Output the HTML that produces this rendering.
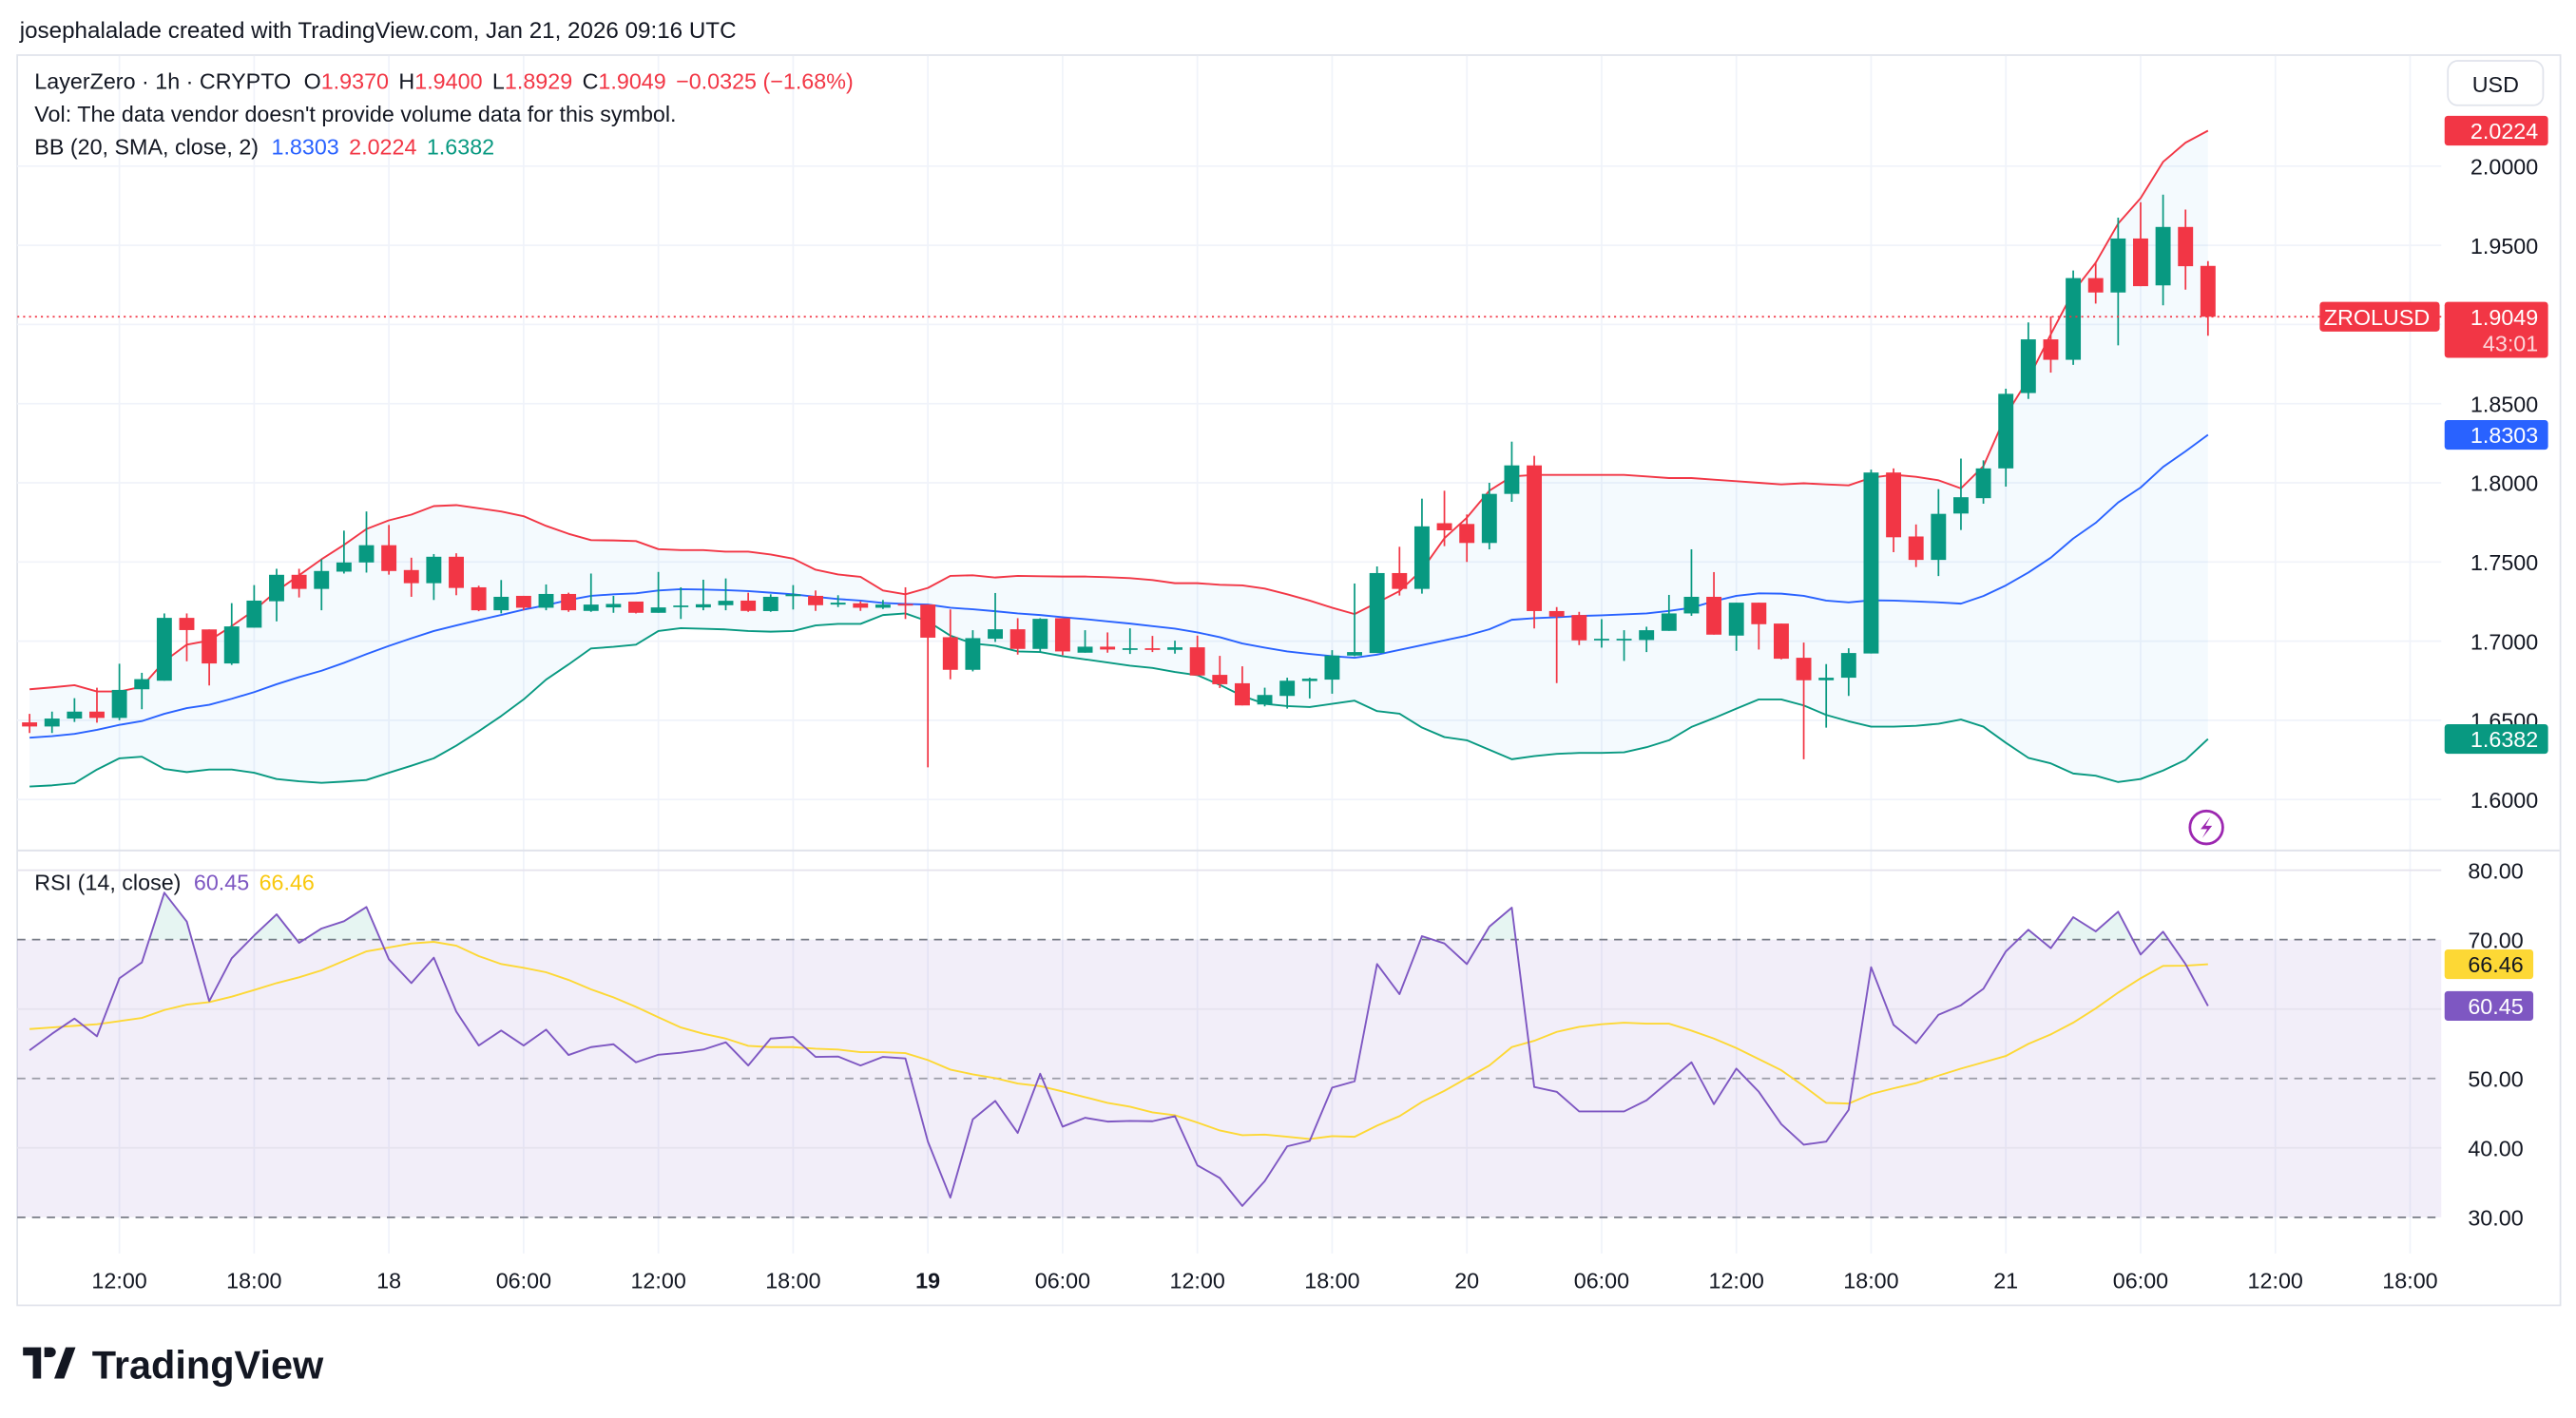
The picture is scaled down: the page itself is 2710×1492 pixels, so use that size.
<!DOCTYPE html>
<html><head><meta charset="utf-8"><style>
html,body{margin:0;padding:0;background:#fff;}
svg{display:block;}
text{font-family:"Liberation Sans",sans-serif;}
</style></head><body>
<svg id="chart" width="2710" height="1492" viewBox="0 0 1568 862" preserveAspectRatio="none" xmlns="http://www.w3.org/2000/svg">
<rect x="0" y="0" width="1568" height="862" fill="#ffffff"/>
<text x="12" y="23" font-size="14" fill="#131722">josephalalade created with TradingView.com, Jan 21, 2026 09:16 UTC</text>
<rect x="10.5" y="33.5" width="1548" height="760" fill="none" stroke="#e0e3eb" stroke-width="1"/>
<g id="grid"></g>
<g id="main"></g>
<g id="rsi"></g>
<g id="axes"></g>
<g font-size="13.5">
<text x="21" y="54" fill="#131722">LayerZero · 1h · CRYPTO <tspan dx="4">O</tspan><tspan fill="#f23645">1.9370</tspan><tspan dx="6">H</tspan><tspan fill="#f23645">1.9400</tspan><tspan dx="6">L</tspan><tspan fill="#f23645">1.8929</tspan><tspan dx="6">C</tspan><tspan fill="#f23645">1.9049</tspan><tspan dx="6" fill="#f23645">−0.0325 (−1.68%)</tspan></text>
<text x="21" y="74" fill="#131722">Vol: The data vendor doesn't provide volume data for this symbol.</text>
<text x="21" y="94" fill="#131722">BB (20, SMA, close, 2) <tspan dx="4" fill="#2962ff">1.8303</tspan><tspan dx="6" fill="#f23645">2.0224</tspan><tspan dx="6" fill="#089981">1.6382</tspan></text>
<text x="21" y="541" fill="#131722">RSI (14, close) <tspan dx="4" fill="#7e57c2">60.45</tspan><tspan dx="6" fill="#f9c80e">66.46</tspan></text>
</g>
<g>
<rect x="1490" y="37" width="58" height="27" rx="6" fill="#fff" stroke="#e0e3eb"/>
<text x="1519" y="56" text-anchor="middle" font-size="13.5" fill="#131722">USD</text>
</g>
<g>
<circle cx="1343" cy="503" r="10" fill="none" stroke="#9c27b0" stroke-width="1.6"/>
<path d="M1345.5 496.5 L1339.5 504 L1343.5 504 L1340.5 509.5 L1346.5 502 L1342.5 502 Z" fill="#9c27b0"/>
</g>
<g>
<path d="M14 819 h11 v19 h-5 v-14 h-6 z M27 819 h4 a3 3 0 0 1 0 6 h-4 z M33 838 l7 -19 h6 l-7 19 z" fill="#131722"/>
<text x="56" y="838" font-size="24" font-weight="bold" fill="#131722">TradingView</text>
</g>
</svg>
<script>
const opens=[1.6487,1.6461,1.6511,1.6555,1.6515,1.6696,1.675,1.7147,1.7074,1.6859,1.7085,1.7252,1.7419,1.733,1.7439,1.7497,1.7606,1.7449,1.7366,1.7533,1.734,1.7195,1.7286,1.7211,1.7298,1.7191,1.7213,1.725,1.7179,1.7217,1.7213,1.7227,1.7256,1.719,1.7284,1.7286,1.7231,1.7239,1.7211,1.7235,1.7231,1.7025,1.6819,1.7015,1.7075,1.6951,1.7145,1.6927,1.6965,1.6945,1.6955,1.6945,1.6961,1.6787,1.6734,1.66,1.6654,1.6748,1.6757,1.6909,1.6925,1.743,1.733,1.7745,1.774,1.762,1.793,1.811,1.719,1.7165,1.7007,1.7007,1.7007,1.7065,1.7175,1.728,1.7035,1.7243,1.7111,1.6895,1.6753,1.6769,1.6922,1.8065,1.7661,1.7513,1.7806,1.7903,1.8091,1.8567,1.8906,1.8777,1.9293,1.9202,1.9543,1.9247,1.9616,1.937];
const highs=[1.6541,1.6555,1.664,1.6706,1.6857,1.680,1.7175,1.7175,1.7074,1.724,1.7354,1.7457,1.7457,1.7517,1.7698,1.7819,1.7734,1.7527,1.755,1.7555,1.735,1.7386,1.7286,1.7358,1.7306,1.7427,1.7286,1.725,1.7437,1.734,1.7388,1.7396,1.7306,1.7296,1.7354,1.732,1.729,1.7251,1.726,1.734,1.7231,1.72,1.7069,1.7304,1.7145,1.7145,1.7145,1.7069,1.7055,1.7081,1.7033,1.7003,1.7035,1.6907,1.6841,1.6706,1.6769,1.6769,1.6943,1.7364,1.7472,1.7596,1.790,1.795,1.780,1.800,1.826,1.817,1.7215,1.7185,1.7139,1.7069,1.7091,1.7292,1.758,1.7436,1.7243,1.7243,1.7111,1.6991,1.6855,1.6955,1.8083,1.8091,1.7737,1.796,1.8153,1.8142,1.8594,1.9013,1.9051,1.9341,1.9395,1.9675,1.9772,1.982,1.9726,1.940];
const lows=[1.642,1.642,1.649,1.6485,1.650,1.657,1.675,1.6873,1.672,1.685,1.7085,1.7125,1.7276,1.7195,1.7427,1.7433,1.742,1.728,1.726,1.729,1.7189,1.7175,1.7195,1.7195,1.7185,1.7185,1.7179,1.7175,1.7179,1.714,1.7195,1.7195,1.7185,1.7185,1.72,1.7191,1.7215,1.7191,1.7203,1.714,1.6203,1.6759,1.6809,1.6995,1.6915,1.6931,1.6911,1.6927,1.6927,1.6919,1.6931,1.6921,1.6783,1.6704,1.6594,1.6588,1.6574,1.6638,1.6668,1.6905,1.6925,1.7288,1.730,1.760,1.750,1.758,1.788,1.708,1.6735,1.6975,1.6959,1.6875,1.6931,1.7065,1.716,1.7041,1.6939,1.6947,1.6885,1.6254,1.6454,1.6654,1.6922,1.7562,1.7468,1.7411,1.7702,1.7868,1.7976,1.853,1.8696,1.8745,1.9132,1.8868,1.9242,1.9121,1.922,1.8929];
const closes=[1.6461,1.6511,1.6555,1.6515,1.6692,1.676,1.7147,1.707,1.6859,1.7093,1.7256,1.7419,1.733,1.7443,1.7497,1.7606,1.7443,1.7366,1.7533,1.7336,1.7195,1.728,1.7211,1.7298,1.7195,1.7231,1.7235,1.7179,1.7213,1.7225,1.7233,1.7255,1.7191,1.728,1.7296,1.7227,1.7243,1.7211,1.7231,1.7227,1.7022,1.6819,1.7019,1.7075,1.6951,1.7141,1.6935,1.6965,1.6947,1.6955,1.6945,1.6961,1.6783,1.6728,1.6594,1.666,1.675,1.6763,1.6909,1.6931,1.743,1.733,1.7725,1.770,1.762,1.793,1.811,1.719,1.7155,1.7005,1.7015,1.7015,1.7069,1.7175,1.728,1.7041,1.7243,1.7107,1.6889,1.6753,1.6769,1.6925,1.8065,1.7656,1.7513,1.7804,1.7909,1.8091,1.8562,1.8906,1.8777,1.9293,1.9202,1.9543,1.9242,1.9616,1.9368,1.9049];
const bbUpper=[1.6696,1.6708,1.6722,1.6682,1.6682,1.6712,1.6873,1.6978,1.7004,1.7095,1.7195,1.7316,1.7416,1.7517,1.7608,1.7708,1.7763,1.7799,1.7853,1.7859,1.7839,1.7819,1.7789,1.7728,1.7678,1.7638,1.7636,1.7632,1.7581,1.7575,1.7575,1.7565,1.7565,1.7547,1.7521,1.7451,1.7421,1.7406,1.732,1.7296,1.7336,1.7412,1.7416,1.7402,1.7412,1.741,1.7408,1.7408,1.7404,1.7398,1.7386,1.7366,1.7366,1.7356,1.7352,1.7332,1.7296,1.7256,1.7211,1.7171,1.7243,1.7316,1.745,1.765,1.778,1.795,1.804,1.805,1.805,1.805,1.805,1.805,1.804,1.803,1.803,1.802,1.801,1.800,1.799,1.7997,1.799,1.7984,1.8032,1.8051,1.8038,1.8016,1.7965,1.8105,1.8427,1.8656,1.8938,1.9207,1.939,1.9637,1.9798,2.0027,2.0148,2.0224];
const bbMid=[1.639,1.640,1.6414,1.644,1.6471,1.6495,1.6541,1.6577,1.6598,1.6636,1.6678,1.6728,1.6773,1.6813,1.6863,1.6918,1.697,1.7018,1.7064,1.7099,1.7133,1.7165,1.7199,1.7227,1.726,1.7286,1.7296,1.7302,1.732,1.7328,1.7326,1.7322,1.7316,1.7306,1.7296,1.728,1.7266,1.7256,1.7241,1.7235,1.7231,1.7211,1.7201,1.7189,1.7175,1.7165,1.7151,1.7139,1.7125,1.7111,1.7095,1.7079,1.7055,1.7025,1.6985,1.6959,1.6935,1.6919,1.6905,1.6895,1.6915,1.6945,1.6975,1.7005,1.7035,1.7075,1.7135,1.7145,1.7151,1.7159,1.7163,1.7169,1.7175,1.7191,1.7211,1.7252,1.7286,1.7302,1.73,1.7286,1.7256,1.7245,1.7258,1.7256,1.7251,1.7245,1.7237,1.7285,1.7352,1.7433,1.7527,1.7648,1.7747,1.7876,1.797,1.81,1.8199,1.8303];
const bbLower=[1.6082,1.6089,1.6103,1.6189,1.626,1.627,1.6193,1.6173,1.6189,1.6189,1.6169,1.6129,1.6115,1.6105,1.6113,1.6123,1.6169,1.6213,1.626,1.634,1.6431,1.6527,1.6632,1.6757,1.6853,1.6954,1.6964,1.6978,1.7064,1.7082,1.7078,1.7074,1.7064,1.706,1.7064,1.7099,1.7109,1.7109,1.7165,1.7175,1.7125,1.7035,1.6985,1.6971,1.6935,1.6931,1.6905,1.6885,1.6865,1.6845,1.6831,1.6805,1.6785,1.6724,1.6654,1.6604,1.659,1.6584,1.6604,1.6624,1.6558,1.6542,1.6454,1.6394,1.6374,1.6314,1.6254,1.6274,1.6288,1.6294,1.6294,1.6298,1.633,1.6374,1.6458,1.6514,1.6574,1.6632,1.6632,1.6594,1.6534,1.6494,1.646,1.646,1.6465,1.6478,1.6505,1.646,1.6358,1.6263,1.6228,1.6164,1.615,1.611,1.6129,1.6183,1.625,1.6382];
const rsiValues=[54.06,56.44,58.63,56.07,64.43,66.71,76.76,72.6,61.14,67.31,70.59,73.65,69.54,71.6,72.65,74.7,67.17,63.74,67.4,59.63,54.75,56.9,54.75,57.03,53.38,54.52,54.93,52.33,53.42,53.7,54.16,55.21,51.87,55.75,55.98,53.11,53.16,51.87,53.11,52.88,40.91,32.83,44.11,46.76,42.15,50.68,43.06,44.34,43.79,43.88,43.84,44.57,37.49,35.66,31.64,35.21,40.23,41.0,48.68,49.59,66.48,62.15,70.5,69.45,66.48,71.87,74.61,48.77,48.08,45.25,45.25,45.25,46.85,49.59,52.33,46.3,51.42,48.08,43.42,40.46,40.91,45.48,66.03,57.72,55.07,59.18,60.55,62.92,68.31,71.42,68.77,73.24,71.19,74.02,67.85,71.14,66.48,60.45];
const rsiMa=[57.12,57.35,57.58,57.81,58.26,58.72,59.86,60.64,61.0,61.78,62.74,63.74,64.57,65.57,66.94,68.31,68.86,69.45,69.68,69.13,67.63,66.48,65.94,65.3,64.2,62.83,61.69,60.32,58.81,57.35,56.44,55.75,54.7,54.52,54.52,54.29,54.16,53.79,53.79,53.65,52.65,51.28,50.59,50.05,49.27,48.9,48.13,47.31,46.48,45.94,45.11,44.7,43.65,42.51,41.83,41.92,41.6,41.28,41.69,41.6,43.2,44.57,46.62,48.22,50.05,51.87,54.52,55.43,56.71,57.44,57.81,58.04,57.9,57.9,56.89,55.75,54.38,52.79,51.19,48.9,46.48,46.39,47.76,48.58,49.32,50.41,51.42,52.33,53.24,54.98,56.35,58.04,60.09,62.37,64.43,66.21,66.25,66.46];
const priceTicks=[2.0,1.95,1.9,1.85,1.8,1.75,1.7,1.65,1.6];
const priceTickLabels=["2.0000","1.9500","","1.8500","1.8000","1.7500","1.7000","1.6500","1.6000"];
const rsiTicks=[80,70,60,50,40,30];
const rsiTickLabels=["80.00","70.00","","50.00","40.00","30.00"];
const timeTickIndex=[4,10,16,22,28,34,40,46,52,58,64,70,76,82,88,94,100,106];
const timeTickLabels=["12:00","18:00","18","06:00","12:00","18:00","19","06:00","12:00","18:00","20","06:00","12:00","18:00","21","06:00","12:00","18:00"];
const lastPrice=1.9049;

const NS="http://www.w3.org/2000/svg";
const PL=10.5,PR=1486,MT=34,MB=516,RT=518,RB=762;
function xOf(i){return 18+13.67*i;}
function yP(p){return 101+(2-p)*962.5;}
function yR(r){return 529+(80-r)*4.22;}
function mk(parent,tag,attrs){const e=document.createElementNS(NS,tag);for(const k in attrs)e.setAttribute(k,attrs[k]);parent.appendChild(e);return e;}
const svg=document.getElementById('chart');
const grid=document.getElementById('grid'),main=document.getElementById('main'),rsiG=document.getElementById('rsi'),axes=document.getElementById('axes');
const defs=mk(svg,'defs',{});
const cp=mk(defs,'clipPath',{id:'clipMain'});mk(cp,'rect',{x:PL,y:MT,width:PR-PL,height:MB-MT});
const cr=mk(defs,'clipPath',{id:'clipOB'});mk(cr,'rect',{x:PL,y:RT,width:PR-PL,height:yR(70)-RT});
main.setAttribute('clip-path','url(#clipMain)');

timeTickIndex.forEach((ti,k)=>{const x=xOf(ti);
 const g=mk(grid,'line',{x1:x,x2:x,y1:MT,y2:RB,stroke:'#f0f3fa','stroke-width':1});
 
 
 const t=mk(axes,'text',{x:x,y:783,'text-anchor':'middle','font-size':13.5,fill:'#131722','font-weight':(timeTickLabels[k]==='19'?'bold':'normal')});
 t.textContent=timeTickLabels[k];
 
 
});
priceTicks.forEach((p,k)=>{const y=yP(p);
 const g=mk(grid,'line',{x1:PL,x2:PR,y1:y,y2:y,stroke:'#f0f3fa','stroke-width':1});
 
 
 if(priceTickLabels[k]){const t=mk(axes,'text',{x:1545,y:y+5,'text-anchor':'end','font-size':13.5,fill:'#131722'});
 t.textContent=priceTickLabels[k];
 
 }
});
const sep=mk(grid,'line',{x1:PL,x2:1558,y1:517,y2:517,stroke:'#e0e3eb','stroke-width':1.2});



function pathOf(arr,yf){return arr.map((v,i)=>(i?'L':'M')+xOf(i).toFixed(2)+' '+yf(v).toFixed(2)).join(' ');}
let fillD=pathOf(bbUpper,yP);for(let i=bbLower.length-1;i>=0;i--)fillD+=' L'+xOf(i).toFixed(2)+' '+yP(bbLower[i]).toFixed(2);fillD+=' Z';
const bf=mk(main,'path',{d:fillD,fill:'#2196f3','fill-opacity':0.05,stroke:'none'});


[[bbUpper,'#f23645','bb-upper-line'],[bbMid,'#2962ff','bb-basis-line'],[bbLower,'#089981','bb-lower-line']].forEach(s=>{
 const l=mk(main,'path',{d:pathOf(s[0],yP),fill:'none',stroke:s[1],'stroke-width':1.1,'stroke-linejoin':'round'});
 
 
});
for(let i=0;i<opens.length;i++){
 const up=closes[i]>=opens[i];const col=up?'#089981':'#f23645';const x=xOf(i);
 const g=mk(main,'g',{});
 
 
 mk(g,'line',{x1:x,x2:x,y1:yP(highs[i]),y2:yP(lows[i]),stroke:col,'stroke-width':1});
 const yt=yP(Math.max(opens[i],closes[i])),yb=yP(Math.min(opens[i],closes[i]));
 mk(g,'rect',{x:x-4.6,y:yt,width:9.2,height:Math.max(1,yb-yt),fill:col});
}
const ly=yP(lastPrice);
const pl=mk(main,'line',{x1:PL,x2:PR,y1:ly,y2:ly,stroke:'#f23645','stroke-width':1,'stroke-dasharray':'1.2 2.4'});


const pl2=mk(axes,'line',{x1:PR,x2:1412,y1:ly,y2:ly,stroke:'#f23645','stroke-width':1,'stroke-dasharray':'1.2 2.4'});

const rb=mk(rsiG,'rect',{x:PL,y:yR(70),width:PR-PL,height:yR(30)-yR(70),fill:'#7e57c2','fill-opacity':0.1});


rsiTicks.forEach((r,k)=>{const y=yR(r);
 const dashed=(r===70||r===50||r===30);
 const l=mk(rsiG,'line',{x1:PL,x2:PR,y1:y,y2:y,stroke:dashed?'#787b86':'#e6e3ee','stroke-width':1,'stroke-dasharray':dashed?'5 4':'none','stroke-opacity':r===50?0.7:1});
 
 
 if(rsiTickLabels[k]){const t=mk(axes,'text',{x:1536,y:y+5,'text-anchor':'end','font-size':13.5,fill:'#131722'});
 t.textContent=rsiTickLabels[k];
 
 }
});
let ob=pathOf(rsiValues,yR)+' L'+xOf(rsiValues.length-1)+' '+yR(70)+' L'+xOf(0)+' '+yR(70)+' Z';
const obf=mk(rsiG,'path',{d:ob,fill:'#089981','fill-opacity':0.1,'clip-path':'url(#clipOB)'});


const maL=mk(rsiG,'path',{d:pathOf(rsiMa,yR),fill:'none',stroke:'#fdd835','stroke-width':1.1});


const rL=mk(rsiG,'path',{d:pathOf(rsiValues,yR),fill:'none',stroke:'#7e57c2','stroke-width':1.1,'stroke-linejoin':'round'});



function badge(y,h,bg,fg,txt,name,x0,w,sub){
 const g=mk(axes,'g',{});
 
 
 mk(g,'rect',{x:x0,y:y-9,width:w,height:h,rx:2,fill:bg});
 const t=mk(g,'text',{x:x0+w-6,y:y+5,'text-anchor':'end','font-size':13.5,fill:fg});t.textContent=txt;
 if(sub){const s=mk(g,'text',{x:x0+w-6,y:y+21,'text-anchor':'end','font-size':13.5,fill:fg,'fill-opacity':0.8});s.textContent=sub;}
}
badge(yP(bbUpper[bbUpper.length-1]),18,'#f23645','#fff',bbUpper[bbUpper.length-1].toFixed(4),'bb-upper-badge',1488,63);
badge(yP(lastPrice),34,'#f23645','#fff',lastPrice.toFixed(4),'last-price-badge',1488,63,'43:01');
badge(yP(lastPrice),18,'#f23645','#fff','ZROLUSD','symbol-badge',1412,73);
badge(yP(bbMid[bbMid.length-1]),18,'#2962ff','#fff',bbMid[bbMid.length-1].toFixed(4),'bb-basis-badge',1488,63);
badge(yP(bbLower[bbLower.length-1]),18,'#089981','#fff',bbLower[bbLower.length-1].toFixed(4),'bb-lower-badge',1488,63);
badge(yR(rsiMa[rsiMa.length-1]),18,'#fdd835','#131722',rsiMa[rsiMa.length-1].toFixed(2),'rsi-ma-badge',1488,54);
badge(yR(rsiValues[rsiValues.length-1]),18,'#7e57c2','#fff',rsiValues[rsiValues.length-1].toFixed(2),'rsi-badge',1488,54);
</script>
</body></html>
